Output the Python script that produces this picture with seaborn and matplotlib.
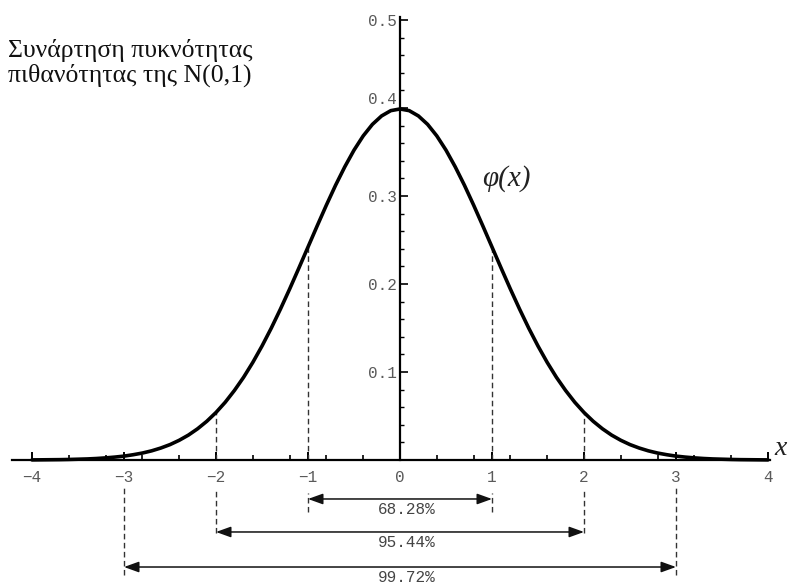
import numpy as np
import pandas as pd
import matplotlib
matplotlib.use("Agg")
import matplotlib.pyplot as plt
import matplotlib.transforms as mtransforms
import seaborn as sns

# Standard normal density sampled every 0.1 from -4 to 4
x_vals = [round(-4 + 0.1 * i, 1) for i in range(81)]
right_half = [0.3989, 0.3970, 0.3910, 0.3814, 0.3683, 0.3521, 0.3332, 0.3123, 0.2897, 0.2661,
              0.2420, 0.2179, 0.1942, 0.1714, 0.1497, 0.1295, 0.1109, 0.0940, 0.0790, 0.0656,
              0.0540, 0.0440, 0.0355, 0.0283, 0.0224, 0.0175, 0.0136, 0.0104, 0.0079, 0.0060,
              0.0044, 0.0033, 0.0024, 0.0017, 0.0012, 0.0009, 0.0006, 0.0004, 0.0003, 0.0002,
              0.0001]
density = right_half[:0:-1] + right_half

# Intervals of ±k standard deviations and their probabilities
sigma_k = [1, 2, 3]
coverage = ["68.28%", "95.44%", "99.72%"]

x_major = [-4, -3, -2, -1, 0, 1, 2, 3, 4]
x_minor = [-3.6, -3.2, -2.8, -2.4, -1.6, -1.2, -0.8, -0.4, 0.4, 0.8, 1.2, 1.6, 2.4, 2.8, 3.2, 3.6]
y_major = [0.1, 0.2, 0.3, 0.4, 0.5]
y_minor = [0.02, 0.04, 0.06, 0.08, 0.12, 0.14, 0.16, 0.18, 0.22, 0.24, 0.26, 0.28,
           0.32, 0.34, 0.36, 0.38, 0.42, 0.44, 0.46, 0.48]

df = pd.DataFrame({"x": x_vals, "phi": density})
phi_at = dict(zip(x_vals, density))

sns.set_theme(style="white")
plt.rcParams["font.family"] = ["Liberation Serif", "DejaVu Serif"]

fig = plt.figure(figsize=(7.9, 5.86), dpi=100)
ax = fig.add_axes([0, 0, 1, 1])
ax.set_facecolor("white")

sns.lineplot(data=df, x="x", y="phi", ax=ax, color="black", linewidth=2.6, zorder=5)

ax.set_xlim(-400 / 92, 390 / 92)
ax.set_ylim(-126 / 880, 460 / 880)
ax.set_xlabel("")
ax.set_ylabel("")

# Axes crossing at the origin
for side in ["top", "right"]:
    ax.spines[side].set_visible(False)
ax.spines["left"].set_position(("data", 0))
ax.spines["bottom"].set_position(("data", 0))
ax.spines["left"].set_bounds(0, 0.503)
ax.spines["bottom"].set_bounds(-4.22, 4.02)
for side in ["left", "bottom"]:
    ax.spines[side].set_color("black")
    ax.spines[side].set_linewidth(1.6)
    ax.spines[side].set_zorder(4)

mono = ["Liberation Mono", "DejaVu Sans Mono"]
ax.set_xticks(x_major)
ax.set_xticks(x_minor, minor=True)
ax.set_xticklabels([f"{v}".replace("-", "\u2212") for v in x_major], fontfamily=mono,
                   fontsize=11.5, color="#5a5a5a")
ax.set_yticks(y_major)
ax.set_yticks(y_minor, minor=True)
ax.set_yticklabels([f"{v:.1f}" for v in y_major], fontfamily=mono, fontsize=11.5, color="#5a5a5a")
ax.tick_params(axis="x", which="major", direction="in", length=6, width=1.4, pad=7, color="black")
ax.tick_params(axis="x", which="minor", direction="in", length=3.5, width=1.2, color="black")
ax.tick_params(axis="y", which="major", direction="in", length=5.5, width=1.2, pad=2, color="black")
ax.tick_params(axis="y", which="minor", direction="in", length=3, width=1.0, color="black")
ax.tick_params(axis="both", which="both", bottom=True, left=True)

# Lift the 0.4 label clear of the curve's peak
for lbl, val in zip(ax.get_yticklabels(), y_major):
    if abs(val - 0.4) < 1e-9:
        lbl.set_transform(lbl.get_transform() +
                          mtransforms.ScaledTranslation(0, 10 / 100, fig.dpi_scale_trans))

dash = (0, (4, 2.5))
# Dashed drop lines from the curve to the axis at ±1 and ±2
for k in sigma_k[:2]:
    for s in (-1, 1):
        ax.plot([s * k, s * k], [0, phi_at[float(s * k)]], color="#333333", lw=1.0,
                linestyle=dash, zorder=3)

# Intervals below the axis
arrow_y = [-0.0443, -0.0818, -0.1216]
label_y = [-0.0568, -0.0943, -0.1330]
line_bottom = [-0.059, -0.083, -0.1307]
line_top = [-0.0375, -0.0352, -0.0318]
for k, lab, ay, ly, lb, lt in zip(sigma_k, coverage, arrow_y, label_y, line_bottom, line_top):
    for s in (-1, 1):
        ax.plot([s * k, s * k], [lb, lt], color="#333333", lw=1.0, linestyle=dash)
    ax.annotate("", xy=(k, ay), xytext=(-k, ay),
                arrowprops=dict(arrowstyle="<|-|>,head_length=0.5,head_width=0.18",
                                mutation_scale=18, color="#111111", lw=1.1,
                                shrinkA=0, shrinkB=0))
    ax.text(0.07, ly, lab, ha="center", va="center", fontfamily=mono, fontsize=11.5,
            color="#444444")

ax.text(1.152, 0.320, "\u03c6(x)", ha="center", va="center", fontsize=21, style="italic",
        color="#222222")
ax.text(4.14, 0.0135, "x", ha="center", va="center", fontsize=20, style="italic",
        color="#222222")

fig.text(8 / 790, 1 - 39 / 586, "Συνάρτηση πυκνότητας\nπιθανότητας της N(0,1)",
         ha="left", va="top", fontsize=18.5, linespacing=1.08, color="#111111")

fig.savefig("out.png", dpi=100)
